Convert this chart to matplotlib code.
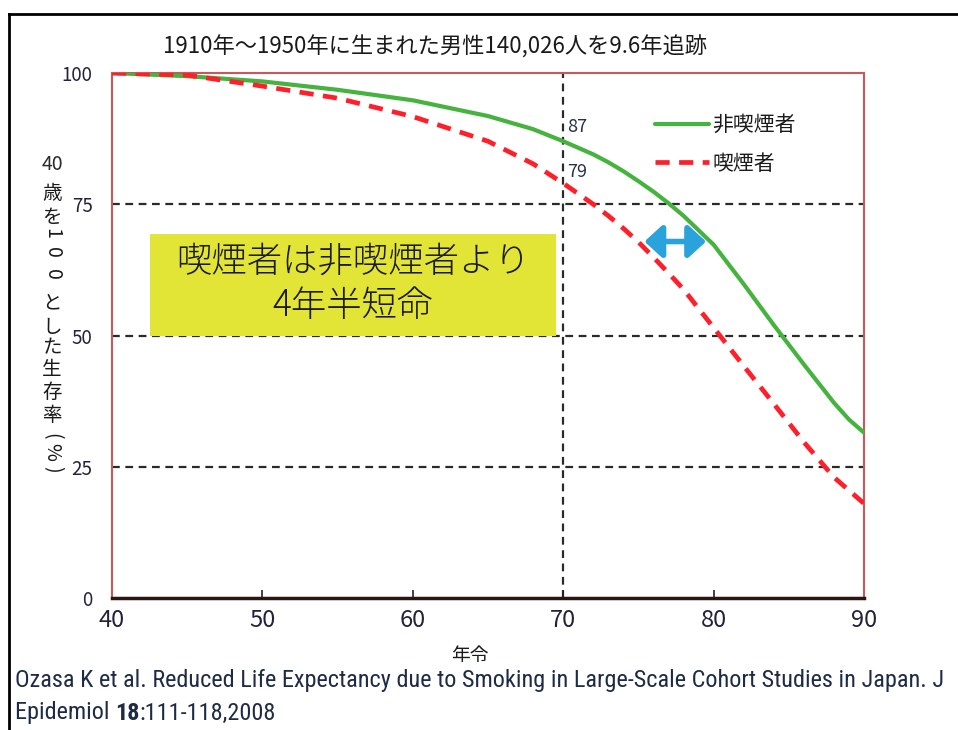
import matplotlib
matplotlib.use("Agg")
import matplotlib.pyplot as plt
from matplotlib import font_manager
from matplotlib.lines import Line2D
from matplotlib.patches import Rectangle, FancyArrowPatch

plt.rcParams['font.family'] = ['Noto Sans CJK JP', 'DejaVu Sans']

# --------------------------
# data
# --------------------------
ages = [40, 45, 50, 55, 60, 65, 68, 70, 72, 73, 74, 75, 76, 77, 78, 80, 82, 84, 86, 88, 89, 90]
non_smoker = [100, 99.4, 98.4, 96.8, 94.8, 91.8, 89.3, 87, 84.5, 83.0, 81.3, 79.4, 77.4,
              75.2, 72.8, 67.3, 59.8, 52, 44.5, 37.2, 34, 31.5]
smoker = [100, 99.6, 97.5, 95.2, 91.7, 87, 82.7, 79, 75, 72.8, 70.4, 67.8, 64.9,
          61.9, 58.8, 51.5, 44.2, 37, 29.7, 23.0, 20.5, 18]
series_names = ['非喫煙者', '喫煙者']
x_ticks = [40, 50, 60, 70, 80, 90]
y_ticks = [0, 25, 50, 75, 100]
ref_lines_y = [25, 50, 75]
ref_age = 70
ref_values = [87, 79]
gap_band = (75.4, 79.5, 67.9)   # smoker age, non-smoker age, survival level

title = '1910年～1950年に生まれた男性140,026人を9.6年追跡'
box_text = '喫煙者は非喫煙者より\n4年半短命'
x_label = '年令'
cite1 = 'Ozasa K et al. Reduced Life Expectancy due to Smoking in Large-Scale Cohort Studies in Japan. J'
cite2 = ('Epidemiol ', '18', ':111-118,2008')

green = '#45b33d'
red = '#ff1f2a'
dark = '#22223a'

fig = plt.figure(figsize=(9.58, 7.30), dpi=100)
ax = fig.add_axes([112/958, 1-598/730, 752/958, 525/730])

# reference dashed lines
for yv in ref_lines_y:
    ax.plot([40, 90], [yv, yv], color='#2a2a2a', lw=1.6, dashes=(3.5, 2.5), zorder=1)
ax.plot([ref_age, ref_age], [0, 100], color='#2a2a2a', lw=1.6, dashes=(3.5, 2.5), zorder=1)

# yellow message box
ax.add_patch(Rectangle((42.5, 50), 27.0, 19.4, facecolor='#e2e436', edgecolor='none', zorder=2))
ax.text(56.0, 59.9, box_text, ha='center', va='center', fontsize=25.5, weight='light',
        color='#1a1a1a', linespacing=1.2, zorder=3)

# curves
ax.plot(ages, non_smoker, color=green, lw=3.0, label=series_names[0], zorder=4,
        solid_capstyle='round')
ax.plot(ages, smoker, color=red, lw=3.4, dashes=(3, 2), label=series_names[1], zorder=4)

# value labels at age 70
ax.text(ref_age + 0.25, ref_values[0] + 2.8, str(ref_values[0]), ha='left', va='center',
        fontsize=13, color='#2a2f4a')
ax.text(ref_age + 0.25, ref_values[1] + 2.2, str(ref_values[1]), ha='left', va='center',
        fontsize=13, color='#2a2f4a')

# blue double arrow
arr = FancyArrowPatch((gap_band[0], gap_band[2]), (gap_band[1], gap_band[2]),
                      arrowstyle='<|-|>,head_length=0.6,head_width=0.55',
                      mutation_scale=18, color='#2aa2dc', lw=4, zorder=5,
                      shrinkA=0, shrinkB=0)
ax.add_patch(arr)

ax.set_xlim(40, 90)
ax.set_ylim(0, 100)
ax.set_xticks(x_ticks)
ax.set_yticks(y_ticks)
ax.set_xticklabels([str(v) for v in x_ticks], fontsize=17, color=dark)
ax.set_yticklabels([str(v) for v in y_ticks], fontsize=13.5, color=dark)
ax.tick_params(axis='x', direction='in', length=6, width=1.2, color='#222222', pad=8)
ax.tick_params(axis='y', length=0, pad=14)

for side in ['left', 'top', 'right']:
    ax.spines[side].set_color('#c8585a')
    ax.spines[side].set_linewidth(1.5)
ax.spines['bottom'].set_color('#2a1414')
ax.spines['bottom'].set_linewidth(2.5)

leg = ax.legend(loc='upper left', bbox_to_anchor=(0.722, 0.922), frameon=False,
                fontsize=15, handlelength=2.6, handletextpad=0.15, labelspacing=0.8,
                borderaxespad=0, borderpad=0)
for t in leg.get_texts():
    t.set_color('#1a1a1a')

# title and x label
fig.text(435/958, 1-47/730, title, ha='center', va='center', fontsize=16, color='#1a1a1a')
fig.text(470/958, 1-656/730, x_label, ha='center', va='center', fontsize=13.5, color='#1a1a1a')

# vertical y label, one character at a time, top to bottom
ylab_chars = ['40', '歳', 'を', '1', '0', '0', 'と', 'し', 'た', '生', '存', '率',
              '(', '%', ')']
ylab_rot = [0, 0, 0, -90, -90, -90, 0, 0, 0, 0, 0, 0, -90, -90, -90]
ylab_y = [165, 193, 217, 233, 252, 274, 303, 327, 348, 369, 392, 415, 436, 452, 469]
for txt, rot, py in zip(ylab_chars, ylab_rot, ylab_y):
    fig.text(52/958, 1-py/730, txt, ha='center', va='center', fontsize=14,
             rotation=rot, color='#1a1a1a' if txt != '40' else '#2a2a2a')

# citation, in a narrow font if one is installed, sized to the reference width
installed = {f.name for f in font_manager.fontManager.ttflist}
cite_family = 'DejaVu Sans'
for name in ['Liberation Sans Narrow', 'Roboto Condensed', 'Open Sans Condensed', 'Lato']:
    if name in installed:
        cite_family = name
        break
fig.canvas.draw()
r = fig.canvas.get_renderer()
c1 = fig.text(15/958, 1-681/730, cite1, ha='left', va='center', fontsize=15,
              family=cite_family, color='#1f2a44')
w = c1.get_window_extent(renderer=r).width
cite_size = 15 * 928 / w
c1.set_fontsize(cite_size)
xpos = 15
for part, bold in zip(cite2, [False, True, False]):
    t = fig.text(xpos/958, 1-713/730, part, ha='left', va='center', fontsize=cite_size,
                 family=cite_family, color='#1f2a44', weight='bold' if bold else 'normal')
    xpos += t.get_window_extent(renderer=r).width

# outer frame of the slide
fig.add_artist(Line2D([9/958, 1.0], [1-14/730, 1-14/730], color='black', lw=2,
                      transform=fig.transFigure))
fig.add_artist(Line2D([9/958, 9/958], [0, 1-14/730], color='black', lw=2,
                      transform=fig.transFigure))

fig.savefig('out.png', dpi=100)
